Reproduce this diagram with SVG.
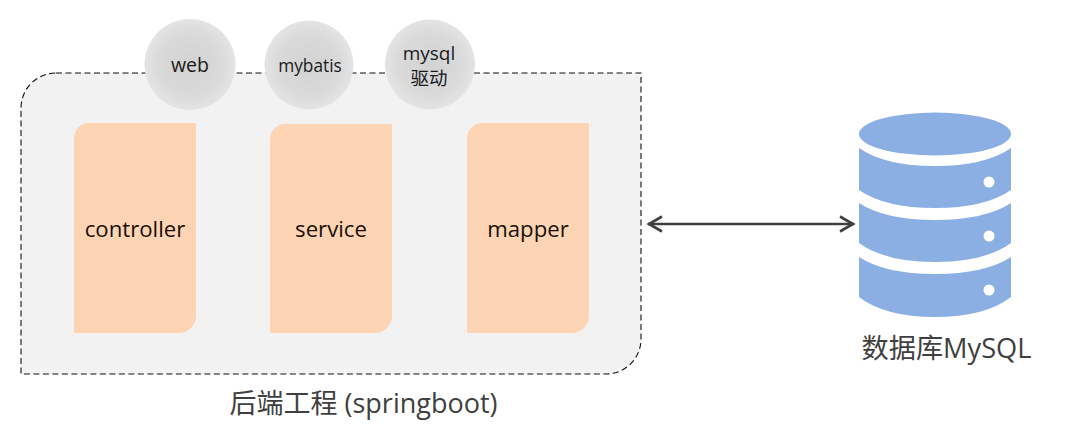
<svg xmlns="http://www.w3.org/2000/svg" width="1073" height="425" viewBox="0 0 1073 425">
<defs>
<radialGradient id="g"><stop offset="0" stop-color="#d2d2d2"/><stop offset="0.7" stop-color="#dadada"/><stop offset="1" stop-color="#e4e4e4"/></radialGradient>
<marker id="a" markerUnits="userSpaceOnUse" markerWidth="20" markerHeight="20" refX="16" refY="10" orient="auto-start-reverse"><path d="M2 2.5 L15 10 L2 17.5" fill="none" stroke="#404040" stroke-width="2.6"/></marker>
</defs>
<style>
text{font-family:"Open Sans","Noto Sans CJK SC",sans-serif;text-anchor:middle;fill:#1a1a1a}
.layer{fill:#fdd5b4}
.lt{font-size:22.2px;fill:#1a0f08}
.dep{fill:url(#g)}
.db{fill:#8cafe3}
.dot{fill:#fff}
</style>
<rect width="1073" height="425" fill="#fff"/>
<g id="backend">
<path d="M56 73H641V339A35 35 0 0 1 606 374H21V108A35 35 0 0 1 56 73Z" fill="#f2f2f3" stroke="#111" stroke-width="1.100" stroke-dasharray="6 3.500"/>
<text x="363.500" y="413" font-size="27" style="fill:#404040">后端工程 (springboot)</text>
</g>
<g id="web"><circle class="dep" cx="190" cy="64.500" r="45.500"/><text x="190" y="72" font-size="19.500">web</text></g>
<g id="mybatis"><circle class="dep" cx="309" cy="65" r="44.500"/><text x="310" y="72" font-size="17.300">mybatis</text></g>
<g id="mysql"><circle class="dep" cx="430" cy="64.500" r="45"/><text x="429" y="60" font-size="19">mysql</text><text x="429" y="85" font-size="18.500">驱动</text></g>
<g id="controller"><path class="layer" d="M89 123H196V316A17 17 0 0 1 179 333H74V138A15 15 0 0 1 89 123Z"/><text class="lt" x="135" y="237">controller</text></g>
<g id="service"><path class="layer" d="M285 124H392V316A17 17 0 0 1 375 333H270V139A15 15 0 0 1 285 124Z"/><text class="lt" x="331" y="237">service</text></g>
<g id="mapper"><path class="layer" d="M482 123H589V316A17 17 0 0 1 572 333H467V138A15 15 0 0 1 482 123Z"/><text class="lt" x="528" y="237">mapper</text></g>
<g id="connectors"><line x1="648" y1="224" x2="854" y2="224" stroke="#404040" stroke-width="2.600" marker-start="url(#a)" marker-end="url(#a)"/></g>
<g id="database">
<ellipse class="db" cx="935" cy="134" rx="76" ry="21.500"/>
<path class="db" d="M859 148Q885 166 935 166T1011 148V190Q985 208 935 208T859 190Z"/>
<path class="db" d="M859 203Q885 220 935 220T1011 203V243Q985 262 935 262T859 243Z"/>
<path class="db" d="M859 257Q885 274 935 274T1011 257V297Q985 317 935 317T859 297Z"/>
<circle class="dot" cx="989" cy="182" r="5.500"/><circle class="dot" cx="989" cy="236" r="5.500"/><circle class="dot" cx="989" cy="290" r="5.500"/>
<text x="946.500" y="358" font-size="27.200" style="fill:#404040">数据库MySQL</text>
</g>
</svg>
